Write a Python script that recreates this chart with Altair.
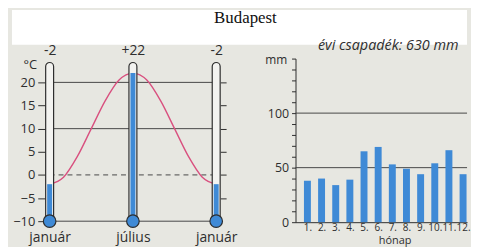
import altair as alt
import pandas as pd

# ---------------- data ----------------
TITLE = "Budapest"

THERMO_MONTHS = [1, 7, 13]
THERMO_NAMES = ["január", "július", "január"]
THERMO_TEMPS = [-2, 22, -2]

CURVE_MONTHS = list(range(1, 14))
CURVE_TEMPS = [-2, -0.5, 4, 10, 16, 20.5, 22, 20.5, 16, 10, 4, -0.5, -2]

TEMP_TICKS = [-10, -5, 0, 5, 10, 15, 20]
TEMP_RIGHT_TICKS = [-5, 0, 5, 10, 15, 20]
GRID_SOLID = [20, 10, -10]
GRID_DASHED = [0]

PRECIP_MONTHS = list(range(1, 13))
PRECIP_MM = [38, 40, 34, 39, 65, 69, 53, 49, 44, 54, 66, 44]
PRECIP_TICKS = list(range(0, 151, 10))
PRECIP_LABELS = [0, 50, 100]
PRECIP_GRID = [50, 100]
PRECIP_TITLE = "évi csapadék: 630 mm"

# ---------------- style ----------------
FONT = "Open Sans"
BEIGE = "#e7e7e1"
BLUE = "#3f8ad6"
DARK = "#2e2e2e"
GRID = "#474747"
PINK = "#d9507f"
TUBE = "#f3f3f0"

TUBE_BOTTOM = -10
TUBE_TOP = 24.3


def mapping_expr(keys, labels):
    expr = "''"
    for k, l in reversed(list(zip(keys, labels))):
        expr = f"datum.value === {k} ? '{l}' : {expr}"
    return expr


therm = pd.DataFrame({
    "pos": THERMO_MONTHS,
    "name": THERMO_NAMES,
    "temp": THERMO_TEMPS,
})
curve = pd.DataFrame({"month": CURVE_MONTHS, "temp": CURVE_TEMPS})

x_left = alt.Scale(domain=[-1.714, 13.286], nice=False, zero=False, padding=0)
y_left = alt.Scale(domain=[-10, 25.14], nice=False, zero=False, padding=0)

span = dict(xa=f"{THERMO_MONTHS[0]}", xb=f"{THERMO_MONTHS[-1]}")

grid_solid = alt.Chart(pd.DataFrame({"v": GRID_SOLID})).transform_calculate(
    **span
).mark_rule(color=GRID, strokeWidth=1).encode(
    y=alt.Y("v:Q", scale=y_left, axis=alt.Axis(
        orient="left", offset=-34, values=TEMP_TICKS, tickSize=8,
        tickColor=DARK, domain=False, grid=False, labelFontSize=13,
        labelPadding=3, labelFlush=False, title="°C", titleAngle=0,
        titleX=-16, titleY=6, titleAlign="center", titleBaseline="middle",
        titleFontSize=13)),
    x=alt.X("xa:Q", scale=x_left, axis=None),
    x2="xb:Q",
)

grid_dashed = alt.Chart(pd.DataFrame({"v": GRID_DASHED})).transform_calculate(
    **span
).mark_rule(color=GRID, strokeWidth=1, strokeDash=[5, 4]).encode(
    y=alt.Y("v:Q", axis=None),
    x=alt.X("xa:Q", axis=None),
    x2="xb:Q",
)

tube_span = dict(lo=f"{TUBE_BOTTOM}", hi=f"{TUBE_TOP}")

tubes = alt.Chart(therm).transform_calculate(**tube_span).mark_bar(
    size=8, fill=TUBE, stroke=DARK, strokeWidth=1.2,
    cornerRadiusTopLeft=4, cornerRadiusTopRight=4
).encode(
    x=alt.X("pos:Q", axis=alt.Axis(
        orient="bottom", values=THERMO_MONTHS,
        labelExpr=mapping_expr(THERMO_MONTHS, THERMO_NAMES),
        ticks=False, domain=False, grid=False, labelPadding=9,
        labelFlush=False, labelOverlap=False, labelFontSize=14, title=None)),
    y=alt.Y("lo:Q", axis=None),
    y2="hi:Q",
)

fills = alt.Chart(therm).transform_calculate(**tube_span).mark_bar(
    size=5, color=BLUE
).encode(
    x=alt.X("pos:Q", axis=alt.Axis(
        orient="top", values=THERMO_MONTHS,
        labelExpr=mapping_expr(THERMO_MONTHS, [f"{t:+d}" for t in THERMO_TEMPS]),
        ticks=False, domain=False, grid=False, labelPadding=1,
        labelFlush=False, labelOverlap=False, labelFontSize=14, title=None)),
    y=alt.Y("lo:Q", axis=None),
    y2="temp:Q",
)

line = alt.Chart(curve).mark_line(
    color=PINK, strokeWidth=1.4, interpolate="monotone"
).encode(
    x=alt.X("month:Q", axis=None),
    y=alt.Y("temp:Q", axis=alt.Axis(
        orient="right", values=TEMP_RIGHT_TICKS, tickSize=6, tickColor=DARK,
        labels=False, domain=False, grid=False, title=None)),
)

bulbs = alt.Chart(therm).transform_calculate(**tube_span).mark_point(
    filled=True, size=160, fill=BLUE, stroke=DARK, strokeWidth=1.2, opacity=1
).encode(
    x=alt.X("pos:Q", axis=None),
    y=alt.Y("lo:Q", axis=None),
)

left = alt.layer(grid_solid, grid_dashed, line, tubes, fills, bulbs).resolve_axis(
    x="independent", y="independent"
).properties(width=210, height=164)

# ---------------- right panel ----------------
precip = pd.DataFrame({"month": PRECIP_MONTHS, "mm": PRECIP_MM})
x_right = alt.Scale(domain=[0.159, 12.28], nice=False, zero=False, padding=0)
y_right = alt.Scale(domain=[0, 150], nice=False, padding=0)

pgrid = alt.Chart(pd.DataFrame({"v": PRECIP_GRID})).mark_rule(
    color=GRID, strokeWidth=1
).encode(y=alt.Y("v:Q", scale=y_right, axis=None))

bars = alt.Chart(precip).mark_bar(size=7, color=BLUE).encode(
    x=alt.X("month:Q", scale=x_right, axis=alt.Axis(
        values=PRECIP_MONTHS, labelExpr="datum.value + '.'", ticks=False,
        domain=True, domainColor=DARK, grid=False, labelFlush=False,
        labelOverlap=False, labelPadding=0, labelFontSize=10,
        title="hónap", titleFontSize=11, titleX=100, titleY=13,
        titleBaseline="top")),
    y=alt.Y("mm:Q", axis=alt.Axis(
        values=PRECIP_TICKS,
        labelExpr=f"indexof({PRECIP_LABELS}, datum.value) >= 0 ? datum.label : ''",
        tickSize=4, tickColor=DARK, domainColor=DARK, grid=False,
        labelFontSize=12.5, labelPadding=3, labelFlush=False,
        title="mm", titleAngle=0, titleX=-20, titleY=1,
        titleAlign="center", titleBaseline="middle", titleFontSize=12)),
)

right = alt.layer(pgrid, bars).resolve_axis(y="independent").properties(
    width=173, height=165,
    title=alt.TitleParams(PRECIP_TITLE, fontStyle="italic", fontSize=14.5,
                          fontWeight="normal", offset=0, anchor="middle",
                          dx=7, font=FONT, color=DARK),
)

# ---------------- title view ----------------
title_view = alt.Chart(pd.DataFrame({"t": [TITLE]})).mark_text(
    font="Liberation Serif", fontSize=17, color="#111111", dy=-9, dx=6
).encode(text="t:N").properties(
    width=459, height=35, view=alt.ViewBackground(fill="white", strokeWidth=0)
)

chart = alt.vconcat(
    title_view,
    alt.hconcat(left, right, spacing=76, bounds="flush"),
    spacing=14, bounds="flush",
).properties(
    background=BEIGE,
    padding={"left": 4, "top": 0, "right": 0, "bottom": 0},
).configure_view(strokeWidth=0).configure_axis(
    labelFont=FONT, titleFont=FONT, labelColor=DARK, titleColor=DARK,
    titleFontWeight="normal"
)

chart.save("out.html", embed_options={"renderer": "svg", "actions": False})
